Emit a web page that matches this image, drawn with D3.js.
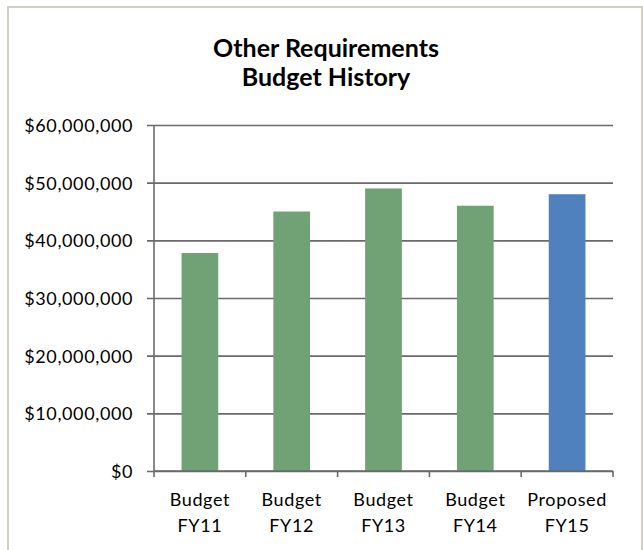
<!DOCTYPE html>
<html>
<head>
<meta charset="utf-8">
<script src="https://cdn.jsdelivr.net/npm/d3@7"></script>
<style>
  html, body { margin: 0; padding: 0; background: #fff; }
  svg { display: block; }
  text { font-family: Lato, "Open Sans", sans-serif; fill: #000; }
</style>
</head>
<body>
<svg id="chart" width="643" height="550"></svg>
<script>
// Budget history data
const categories = [["Budget", "FY11"], ["Budget", "FY12"], ["Budget", "FY13"], ["Budget", "FY14"], ["Proposed", "FY15"]];
const values = [37800000, 45000000, 49000000, 46000000, 48000000];
const barColors = ["#71a276", "#71a276", "#71a276", "#71a276", "#4f81bd"];
const yTicks = [0, 10000000, 20000000, 30000000, 40000000, 50000000, 60000000];
const titleLines = ["Other Requirements", "Budget History"];

const svg = d3.select("#chart");
const plot = { left: 154, right: 613, top: 125, bottom: 471 };

// Outer chart frame
svg.append("rect")
  .attr("x", 8).attr("y", 7)
  .attr("width", 634).attr("height", 560)
  .attr("fill", "#fff")
  .attr("stroke", "#cfcfc4").attr("stroke-width", 2);

// Title
svg.append("g").selectAll("text").data(titleLines).join("text")
  .attr("x", 326)
  .attr("y", (d, i) => 57 + i * 29)
  .attr("text-anchor", "middle")
  .attr("font-size", 25)
  .attr("font-weight", 700)
  .text(d => d);

const keys = categories.map(c => c.join(" "));
const x = d3.scaleBand().domain(keys).range([plot.left, plot.right])
  .paddingInner(0.6).paddingOuter(0.3);
const xStep = x.step();
const y = d3.scaleLinear().domain([0, 60000000]).range([plot.bottom, plot.top]);

const fmt = v => "$" + d3.format(",")(v);

// Gridlines + y axis labels
const yAxis = d3.axisLeft(y).tickValues(yTicks).tickFormat(fmt)
  .tickSizeInner(-(plot.right - plot.left)).tickSizeOuter(0).tickPadding(21);
const gy = svg.append("g").attr("transform", `translate(${plot.left},0)`).call(yAxis);
gy.select(".domain").remove();
gy.selectAll(".tick line").attr("stroke", "#6a6a6a").attr("stroke-width", 1.6)
  .attr("x1", -7);
gy.selectAll(".tick text").attr("font-size", 18).attr("fill", "#000")
  .attr("letter-spacing", 0.6)
  .attr("font-family", "Lato, sans-serif").attr("dy", "0.36em");

// Bars
svg.append("g").selectAll("rect").data(values).join("rect")
  .attr("x", (d, i) => x(keys[i]))
  .attr("width", x.bandwidth())
  .attr("y", d => y(d))
  .attr("height", d => y(0) - y(d))
  .attr("fill", (d, i) => barColors[i]);

// Y axis line
svg.append("line")
  .attr("x1", plot.left).attr("x2", plot.left)
  .attr("y1", plot.top).attr("y2", plot.bottom)
  .attr("stroke", "#6a6a6a").attr("stroke-width", 1.6);

// X axis line with category boundary ticks
const gx = svg.append("g");
gx.append("line")
  .attr("x1", plot.left).attr("x2", plot.right)
  .attr("y1", plot.bottom).attr("y2", plot.bottom)
  .attr("stroke", "#6a6a6a").attr("stroke-width", 1.6);
gx.selectAll("line.tk").data(d3.range(keys.length + 1)).join("line")
  .attr("class", "tk")
  .attr("x1", i => plot.left + i * xStep).attr("x2", i => plot.left + i * xStep)
  .attr("y1", plot.bottom).attr("y2", plot.bottom + 6)
  .attr("stroke", "#6a6a6a").attr("stroke-width", 1.6);

// Category labels (two lines each)
const lab = gx.selectAll("text.cat").data(categories).join("text")
  .attr("class", "cat")
  .attr("text-anchor", "middle")
  .attr("letter-spacing", 0.6)
  .attr("font-size", 18);
lab.each(function (c, i) {
  const cx = x(keys[i]) + x.bandwidth() / 2;
  d3.select(this).selectAll("tspan").data(c).join("tspan")
    .attr("x", cx)
    .attr("y", (d, j) => 506 + j * 25.5)
    .text(d => d);
});
</script>
</body>
</html>
